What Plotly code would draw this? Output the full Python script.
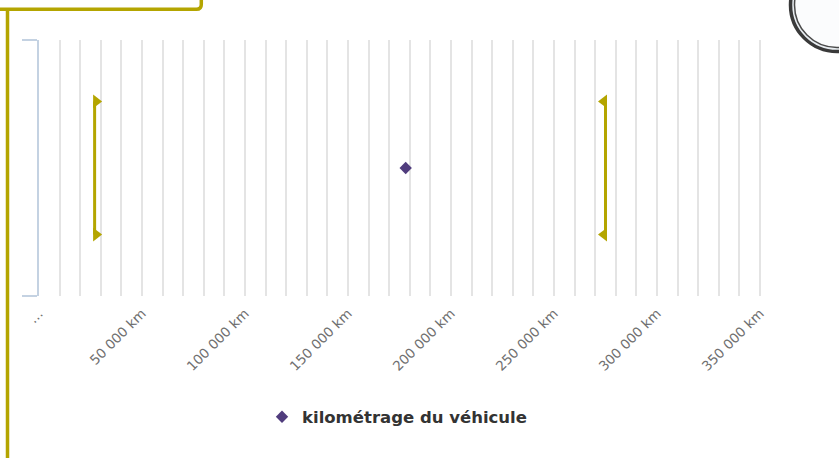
import plotly.graph_objects as go

# ---------------- data ----------------
series_name = "kilométrage du véhicule"
mileage_value = [178000]
range_low = [27000]
range_high = [275000]
tick_values = [0, 50000, 100000, 150000, 200000, 250000, 300000, 350000]
tick_labels = ["…", "50 000 km", "100 000 km", "150 000 km", "200 000 km",
               "250 000 km", "300 000 km", "350 000 km"]
x_min, x_max = 0, 350000

# ---------------- style ----------------
OLIVE = "#b4a500"
PURPLE = "#503c7d"
GRID = "#e4e4e4"
AXIS = "#c4d2e2"
W, H = 839, 458
L, R, T, B = 39, 77, 40, 162
BRACKET_HALF = 0.26
EDGE_PAD_PX = 2   # keeps the last grid line inside the plot area

plot_w = W - L - R
plot_h = H - T - B
x_axis_max = x_min + (x_max - x_min) * plot_w / (plot_w - EDGE_PAD_PX)


def px(x):
    return (x - L) / plot_w


def py(y):
    return (H - B - y) / plot_h


fig = go.Figure()

# range brackets (min / max)
fig.add_trace(go.Scatter(
    x=[range_low[0], range_low[0]], y=[-BRACKET_HALF, BRACKET_HALF],
    mode="lines+markers", showlegend=False, hoverinfo="skip",
    line=dict(color=OLIVE, width=3),
    marker=dict(symbol="triangle-down", angle=-90, standoff=1.5, size=12, color=OLIVE),
))
fig.add_trace(go.Scatter(
    x=[range_high[0], range_high[0]], y=[-BRACKET_HALF, BRACKET_HALF],
    mode="lines+markers", showlegend=False, hoverinfo="skip",
    line=dict(color=OLIVE, width=3),
    marker=dict(symbol="triangle-down", angle=90, standoff=1.5, size=12, color=OLIVE),
))

# value
fig.add_trace(go.Scatter(
    x=mileage_value, y=[0], mode="markers", name=series_name,
    marker=dict(symbol="diamond", size=9.5, color=PURPLE),
))

# decorations of the page around the chart
shapes = []
path = (f"M {px(-5)},{py(9.2)} L {px(196.5)},{py(9.2)} "
        f"Q {px(201.3)},{py(9.2)} {px(201.3)},{py(4.4)} L {px(201.3)},{py(-10)}")
shapes.append(dict(type="path", xref="paper", yref="paper", path=path,
                   line=dict(color=OLIVE, width=3.5)))
shapes.append(dict(type="line", xref="paper", yref="paper",
                   x0=px(7.5), x1=px(7.5), y0=py(9), y1=py(470),
                   line=dict(color=OLIVE, width=3.5)))
cx, cy = 837, 5
r1, r2 = 46.5, 42.5
shapes.append(dict(type="circle", xref="paper", yref="paper",
                   x0=px(cx - r1), x1=px(cx + r1), y0=py(cy + r1), y1=py(cy - r1),
                   line=dict(color="#3a3a3a", width=3.5), fillcolor="#e9eef2"))
shapes.append(dict(type="circle", xref="paper", yref="paper",
                   x0=px(cx - r2), x1=px(cx + r2), y0=py(cy + r2), y1=py(cy - r2),
                   line=dict(color="#4a4a4a", width=1.5), fillcolor="#fbfcfd"))

fig.update_layout(
    width=W, height=H,
    autosize=False,
    margin=dict(l=L, r=R, t=T, b=B, autoexpand=False),
    paper_bgcolor="white", plot_bgcolor="white",
    font=dict(family="DejaVu Sans", color="#666666"),
    shapes=shapes,
    showlegend=True,
    legend=dict(orientation="h", x=px(397), xanchor="center", y=py(417), yanchor="middle",
                font=dict(family="DejaVu Sans", size=16.5, color="#333333", weight="bold"),
                bgcolor="rgba(0,0,0,0)"),
    xaxis=dict(
        range=[x_min, x_axis_max], tickvals=tick_values, ticktext=tick_labels,
        tickangle=-45, tickfont=dict(size=13.5, color="#707070"),
        ticklabelstandoff=6, automargin=False,
        showgrid=True, gridcolor=GRID, gridwidth=1.5,
        minor=dict(dtick=10000, showgrid=True, gridcolor=GRID, gridwidth=1.5),
        zeroline=False, showline=False, ticks="",
    ),
    yaxis=dict(
        range=[-0.5, 0.5], tickvals=[-0.5, 0.5], showticklabels=False,
        ticks="outside", ticklen=15, tickwidth=1.5, tickcolor=AXIS,
        showline=True, linecolor=AXIS, linewidth=1.5, automargin=False,
        showgrid=False, zeroline=False,
    ),
)

fig.write_html("out.html", config={"displayModeBar": False},
               post_script="document.body.style.margin='0';document.body.style.padding='0';"
                           "document.body.style.overflow='hidden';")
